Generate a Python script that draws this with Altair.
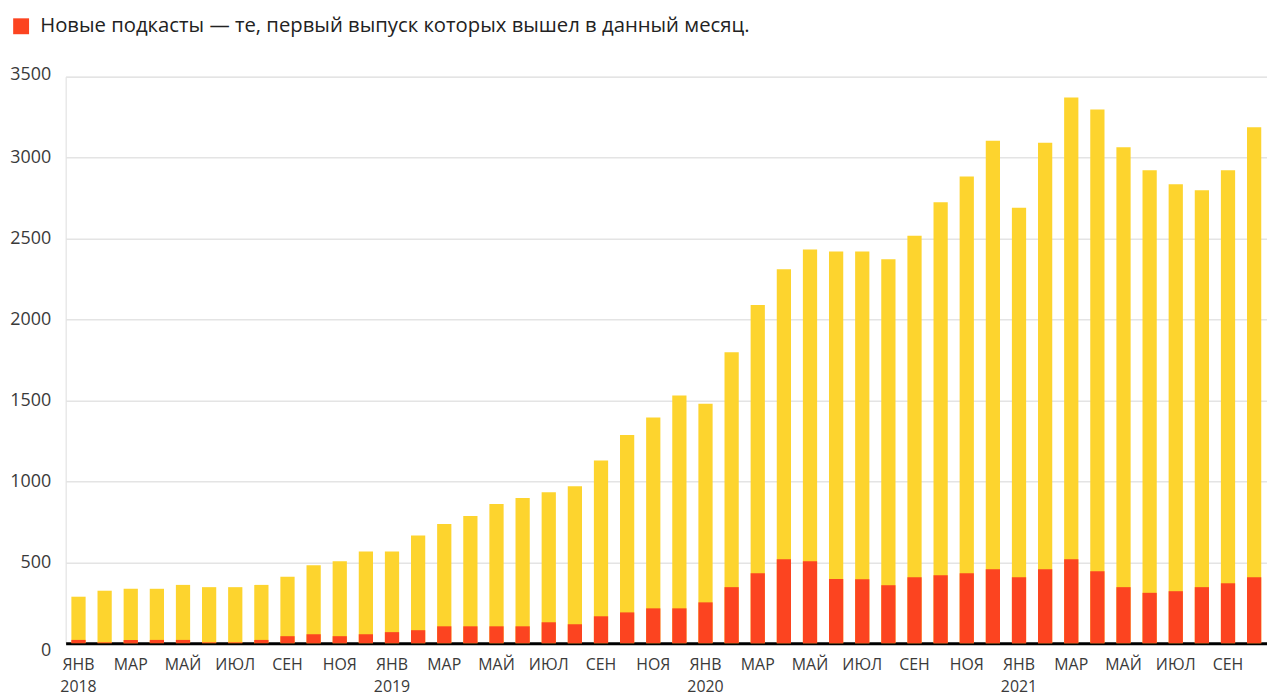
import altair as alt
import pandas as pd

MONTH_NAMES = ["ЯНВ", "ФЕВ", "МАР", "АПР", "МАЙ", "ИЮН", "ИЮЛ", "АВГ", "СЕН", "ОКТ", "НОЯ", "ДЕК"]
periods = [f"{y}-{m:02d}" for y in range(2018, 2022) for m in range(1, 13)][:46]

total_podcasts = [
    287, 324, 336, 336, 360, 346, 346, 360, 410, 481, 506, 567,
    567, 665, 737, 786, 860, 897, 932, 969, 1128, 1286, 1394, 1530,
    1480, 1798, 2090, 2310, 2432, 2420, 2420, 2373, 2518, 2725, 2883, 3104,
    2690, 3092, 3372, 3298, 3065, 2922, 2836, 2799, 2922, 3188,
]
new_podcasts = [
    20, 5, 20, 20, 20, 5, 5, 20, 43, 55, 43, 55,
    68, 80, 104, 104, 104, 104, 129, 117, 166, 190, 215, 215,
    252, 346, 432, 518, 506, 397, 395, 358, 407, 420, 432, 456,
    407, 456, 518, 444, 346, 311, 321, 346, 370, 407,
]

SERIES_NEW = "Новые подкасты — те, первый выпуск которых вышел в данный месяц."
SERIES_ALL = "Все подкасты"
RED = "#FC4420"
YELLOW = "#FDD42E"
FONT = "Open Sans"

rows = []
for p, v in zip(periods, total_podcasts):
    rows.append({"period": p, "series": SERIES_ALL, "value": v, "ord": 0})
for p, v in zip(periods, new_podcasts):
    rows.append({"period": p, "series": SERIES_NEW, "value": v, "ord": 1})
df = pd.DataFrame(rows)

odd_periods = [p for p in periods if int(p[5:]) % 2 == 1]
months_js = "[" + ",".join(f"'{m}'" for m in MONTH_NAMES) + "]"
mname = f"{months_js}[toNumber(split(datum.value,'-')[1]) - 1]"
label_expr = (
    f"split(datum.value,'-')[1] == '01' ? [{mname}, split(datum.value,'-')[0]] : {mname}"
)

chart = alt.Chart(df).mark_bar().encode(
    x=alt.X(
        "period:N",
        sort=periods,
        scale=alt.Scale(paddingInner=0.455, paddingOuter=0.22),
        axis=alt.Axis(
            title=None,
            values=odd_periods,
            labelExpr=label_expr,
            labelAngle=0,
            labelFont=FONT,
            labelFontSize=16,
            labelColor="#3a3a3a",
            labelPadding=14,
            labelLineHeight=22,
            labelBaseline="top",
            ticks=False,
            tickSize=0,
            grid=False,
            domain=True,
            domainColor="#000000",
            domainWidth=3,
        ),
    ),
    y=alt.Y(
        "value:Q",
        stack=None,
        scale=alt.Scale(domain=[0, 3500], nice=False),
        axis=alt.Axis(
            title=None,
            format="d",
            values=[0, 500, 1000, 1500, 2000, 2500, 3000, 3500],
            labelFont=FONT,
            labelFontSize=18,
            labelColor="#3a3a3a",
            labelPadding=15,
            labelAlign="right",
            labelBaseline="middle",
            labelOffset=alt.ExprRef(expr="datum.value == 0 ? 7 : (datum.value == 3500 ? -2 : 0)"),
            ticks=False,
            tickSize=0,
            domain=False,
            grid=True,
            gridColor="#e4e4e4",
            gridWidth=1.5,
        ),
    ),
    color=alt.Color(
        "series:N",
        scale=alt.Scale(domain=[SERIES_NEW, SERIES_ALL], range=[RED, YELLOW]),
        legend=alt.Legend(
            values=[SERIES_NEW],
            title=None,
            orient="none",
            legendX=-55,
            legendY=-61,
            padding=0,
            symbolType="square",
            symbolSize=256,
            symbolStrokeWidth=0,
            symbolOpacity=1,
            labelFont=FONT,
            labelFontSize=20.4,
            labelColor="#222222",
            labelOffset=9,
            labelLimit=1000,
        ),
    ),
    order=alt.Order("ord:Q"),
).properties(
    width=1209,
    height=570,
    autosize=alt.AutoSizeParams(type="none"),
    padding={"left": 58, "top": 67, "right": 0, "bottom": 52},
).configure_view(stroke=None).configure(background="white")

chart.save("out.html", embed_options={"renderer": "svg", "actions": False})
